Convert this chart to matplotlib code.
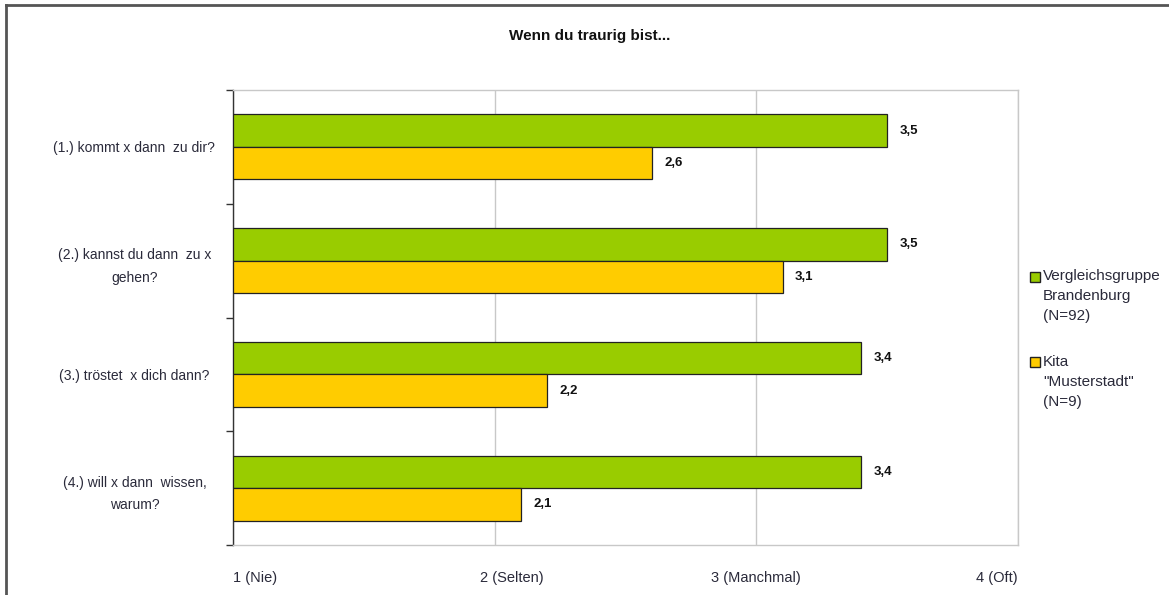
import matplotlib
matplotlib.use("Agg")
import matplotlib.pyplot as plt
import matplotlib.transforms as mtransforms
from matplotlib.lines import Line2D
from matplotlib.patches import Rectangle
import numpy as np

plt.rcParams["font.family"] = ["Liberation Sans", "DejaVu Sans"]

questions = [
    "(1.) kommt x dann  zu dir?",
    "(2.) kannst du dann  zu x\ngehen?",
    "(3.) tröstet  x dich dann?",
    "(4.) will x dann  wissen,\nwarum?",
]
series_names = [
    "Vergleichsgruppe\nBrandenburg\n(N=92)",
    "Kita\n\"Musterstadt\"\n(N=9)",
]
colors = ["#99CC00", "#FFCC00"]
brandenburg = [3.5, 3.5, 3.4, 3.4]
kita = [2.6, 3.1, 2.2, 2.1]
x_ticks = [1, 2, 3, 4]
x_labels = ["1 (Nie)", "2 (Selten)", "3 (Manchmal)", "4 (Oft)"]
title = "Wenn du traurig bist..."

W, H = 1169, 595
fig = plt.figure(figsize=(W / 100, H / 100), dpi=100)
ax = fig.add_axes([233 / W, 1 - 545 / H, 785 / W, 455 / H])

y = np.arange(len(questions))
h = 0.286
bars_g = ax.barh(y - h / 2, np.array(brandenburg) - 1, left=1, height=h,
                 color=colors[0], edgecolor="#222222", linewidth=0.9, zorder=3)
bars_o = ax.barh(y + h / 2, np.array(kita) - 1, left=1, height=h,
                 color=colors[1], edgecolor="#222222", linewidth=0.9, zorder=3)

for bars, vals in ((bars_g, brandenburg), (bars_o, kita)):
    for b, v in zip(bars, vals):
        ax.annotate(f"{v:.1f}".replace(".", ","),
                    (b.get_x() + b.get_width(), b.get_y() + b.get_height() / 2),
                    xytext=(9, 0), textcoords="offset points",
                    ha="left", va="center", fontsize=9.5, fontweight="bold",
                    color="#111111")

ax.set_xlim(1, 4)
ax.set_ylim(len(questions) - 0.5, -0.5)

ax.set_yticks(y)
ax.set_yticklabels(questions, fontsize=10, color="#2a2a3a", ha="center",
                   multialignment="center", linespacing=1.8)
ax.tick_params(axis="y", which="major", length=0, pad=71)
ax.set_yticks(np.arange(-0.5, len(questions)), minor=True)
ax.tick_params(axis="y", which="minor", length=5, width=1, color="#333333")

ax.set_xticks(x_ticks)
ax.set_xticklabels(x_labels, fontsize=10.5, color="#2a2a3a")
ax.tick_params(axis="x", length=0, pad=19)
xl = ax.get_xticklabels()
xl[0].set_ha("left")
xl[-1].set_ha("right")
xl[1].set_transform(xl[1].get_transform() +
                    mtransforms.ScaledTranslation(17 / 100, 0, fig.dpi_scale_trans))

ax.grid(axis="x", color="#c8c8c8", linewidth=1, zorder=0)
for s in ("top", "right", "bottom"):
    ax.spines[s].set_color("#c8c8c8")
    ax.spines[s].set_linewidth(1)
ax.spines["left"].set_color("#333333")
ax.spines["left"].set_linewidth(1)

fig.text(590 / W, 1 - 36 / H, title, ha="center", va="center",
         fontsize=11, fontweight="bold", color="#111111")

# legend: square aligned with the first line of each entry
for name, col, top, sq in zip(series_names, colors, (269, 355), (282, 367)):
    fig.add_artist(Rectangle((1030 / W, 1 - sq / H), 10 / W, 10 / H,
                             transform=fig.transFigure, facecolor=col,
                             edgecolor="#222222", linewidth=1))
    fig.text(1043 / W, 1 - top / H, name, ha="left", va="top", fontsize=11,
             color="#2a2a3a", linespacing=1.55)

fig.add_artist(Line2D([6 / W, 6 / W], [0, 1 - 5 / H],
                      transform=fig.transFigure, color="#555555", linewidth=2))
fig.add_artist(Line2D([6 / W, 1], [1 - 5 / H, 1 - 5 / H],
                      transform=fig.transFigure, color="#555555", linewidth=2))

fig.savefig("out.png", dpi=100)
